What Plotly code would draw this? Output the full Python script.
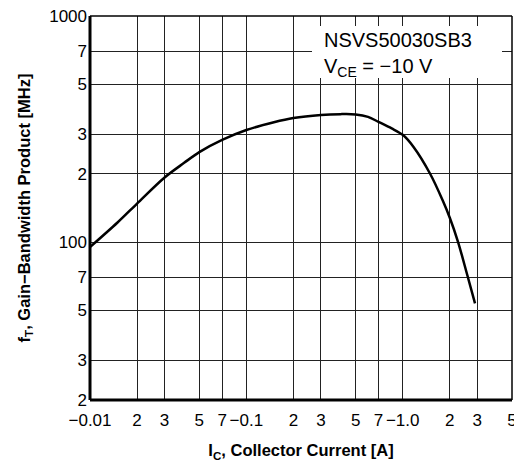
import plotly.graph_objects as go

# Collector current magnitude [A] and gain-bandwidth product [MHz]
ic = [0.01, 0.015, 0.02, 0.03, 0.04, 0.05, 0.07, 0.1, 0.15, 0.2, 0.3, 0.4, 0.5, 0.6, 0.7,
      0.85, 1.0, 1.17, 1.5, 1.8, 2.0, 2.26, 2.58, 2.9]
ft = [95, 122, 148, 193, 224, 250, 283, 313, 339, 354, 365, 368, 367, 358, 340,
      318, 298, 264, 200, 153, 128, 100, 72, 53.5]

x_tickvals = [0.01, 0.02, 0.03, 0.05, 0.07, 0.1, 0.2, 0.3, 0.5, 0.7, 1.0, 2, 3, 5]
x_ticktext = ["\u22120.01", "2", "3", "5", "7", "\u22120.1", "2", "3", "5", "7", "\u22121.0", "2", "3", "5"]
y_tickvals = [20, 30, 50, 70, 100, 200, 300, 500, 700, 1000]
y_ticktext = ["2", "3", "5", "7", "100", "2", "3", "5", "7", "1000"]

device_label = "NSVS50030SB3"
cond_label = "V<sub>CE</sub> = \u221210 V"

FONT = "Liberation Sans, Arial, sans-serif"

# page body has an 8px default margin; figure is sized so the plot area lands at
# x 90..512, y 16..400 in the 522x467 window
fig = go.Figure()
fig.add_trace(go.Scatter(x=ic, y=ft, mode="lines",
                         line=dict(color="black", width=2.5, shape="spline", smoothing=0.9),
                         showlegend=False, hoverinfo="skip"))

fig.update_layout(
    width=514, height=459,
    margin=dict(l=82, r=10, t=8, b=67, autoexpand=False),
    paper_bgcolor="white", plot_bgcolor="white",
    font=dict(family=FONT, color="black"),
    xaxis=dict(type="log", range=[-2, 0.69897], automargin=False,
               tickvals=x_tickvals, ticktext=x_ticktext,
               tickfont=dict(size=17, family=FONT),
               ticklabeloverflow="allow",
               showgrid=True, gridcolor="#222", gridwidth=1.4,
               showline=False, zeroline=False, ticks="",
               ticklabelstandoff=8,
               title=dict(text="<b>I<sub>C</sub>, Collector Current [A]</b>",
                          font=dict(size=16.5, family=FONT), standoff=15)),
    yaxis=dict(type="log", range=[1.30103, 3], automargin=False,
               tickvals=y_tickvals, ticktext=y_ticktext,
               tickfont=dict(size=17, family=FONT),
               ticklabeloverflow="allow",
               showgrid=True, gridcolor="#222", gridwidth=1.4,
               showline=False, zeroline=False, ticks="",
               ticklabelstandoff=2,
               title=dict(text="<b>f<sub>T</sub>, Gain\u2212Bandwidth Product [MHz]</b>",
                          font=dict(size=16.5, family=FONT), standoff=14)),
)

# white label box (hides gridlines behind the text)
fig.add_shape(type="rect", xref="paper", yref="paper",
              x0=(312 - 90) / 422, x1=(502 - 90) / 422,
              y0=(400 - 78) / 384, y1=(400 - 26) / 384,
              fillcolor="white", line=dict(width=0), layer="above")

# frame: thick left/bottom, thinner top/right
fig.add_shape(type="line", xref="paper", yref="paper", x0=0, x1=0, y0=0, y1=1,
              line=dict(color="black", width=3), layer="above")
fig.add_shape(type="line", xref="paper", yref="paper", x0=0, x1=1, y0=0, y1=0,
              line=dict(color="black", width=3), layer="above")
fig.add_shape(type="line", xref="paper", yref="paper", x0=0, x1=1, y0=1, y1=1,
              line=dict(color="black", width=1.5), layer="above")
fig.add_shape(type="line", xref="paper", yref="paper", x0=1, x1=1, y0=0, y1=1,
              line=dict(color="black", width=1.5), layer="above")

fig.add_annotation(xref="paper", yref="paper", x=(322 - 90) / 422, y=(400 - 40) / 384,
                   xanchor="left", yanchor="middle", showarrow=False,
                   text=device_label, font=dict(size=20, family=FONT, color="black"))
fig.add_annotation(xref="paper", yref="paper", x=(322 - 90) / 422, y=(400 - 67) / 384,
                   xanchor="left", yanchor="middle", showarrow=False,
                   text=cond_label, font=dict(size=20, family=FONT, color="black"))

fig.write_html("out.html")
